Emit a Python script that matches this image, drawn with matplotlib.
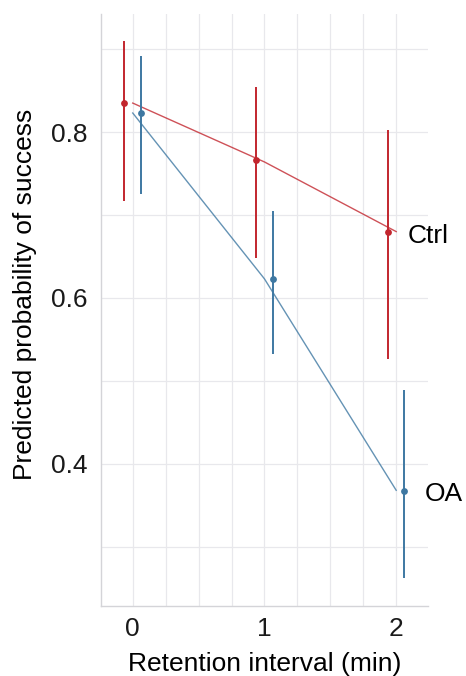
import matplotlib
matplotlib.use('Agg')
import matplotlib.pyplot as plt
import numpy as np

plt.rcParams['font.family'] = ['Liberation Sans', 'DejaVu Sans']

intervals = [0, 1, 2]
groups = ['Ctrl', 'OA']

# predicted probability and 95% interval per group
ctrl_pred = [0.835, 0.766, 0.679]
ctrl_low = [0.717, 0.648, 0.526]
ctrl_high = [0.910, 0.854, 0.803]
ctrl_fit = [0.835, 0.764, 0.680]

oa_pred = [0.823, 0.623, 0.367]
oa_low = [0.725, 0.532, 0.262]
oa_high = [0.892, 0.705, 0.489]
oa_fit = [0.823, 0.623, 0.368]

red = '#C2262E'
blue = '#3E78A2'
dodge = 0.063

fig, ax = plt.subplots(figsize=(4.66, 6.76), dpi=100)
fig.subplots_adjust(left=0.217, right=0.918, top=0.98, bottom=0.103)

x = np.array(intervals, dtype=float)

ax.plot(x, ctrl_fit, color=red, lw=1.0, alpha=0.8, zorder=3)
ax.plot(x, oa_fit, color=blue, lw=1.0, alpha=0.8, zorder=3)

ax.vlines(x - dodge, ctrl_low, ctrl_high, color=red, lw=1.4, zorder=4)
ax.vlines(x + dodge, oa_low, oa_high, color=blue, lw=1.4, zorder=4)
ax.scatter(x - dodge, ctrl_pred, color=red, s=24, zorder=5, linewidths=0)
ax.scatter(x + dodge, oa_pred, color=blue, s=24, zorder=5, linewidths=0)

ax.text(x[-1] + 0.09, ctrl_pred[-1] - 0.004, groups[0], fontsize=19, va='center', ha='left')
ax.text(x[-1] + 0.215, oa_pred[-1] - 0.004, groups[1], fontsize=19, va='center', ha='left')

ax.set_xlim(-0.24, 2.24)
ax.set_ylim(0.228, 0.943)
ax.set_xticks(intervals)
ax.set_xticks(np.arange(0, 2.01, 0.25), minor=True)
ax.set_yticks([0.4, 0.6, 0.8])
ax.set_yticks([0.3, 0.5, 0.7, 0.9], minor=True)

ax.grid(True, which='both', color='#E8E8EC', lw=0.9)
ax.set_axisbelow(True)
for side in ['top', 'right']:
    ax.spines[side].set_visible(False)
for side in ['left', 'bottom']:
    ax.spines[side].set_color('#D4D4D8')
    ax.spines[side].set_linewidth(1.0)

ax.tick_params(which='both', length=0, labelsize=19, colors='#1a1a1a')
ax.tick_params(axis='y', pad=10)
ax.tick_params(axis='x', pad=8)
ax.set_xlabel('Retention interval (min)', fontsize=19, labelpad=7.5)
ax.set_ylabel('Predicted probability of success', fontsize=19, labelpad=10)
ax.yaxis.label.set_y(0.527)

fig.savefig('out.png', dpi=100, facecolor='white')
